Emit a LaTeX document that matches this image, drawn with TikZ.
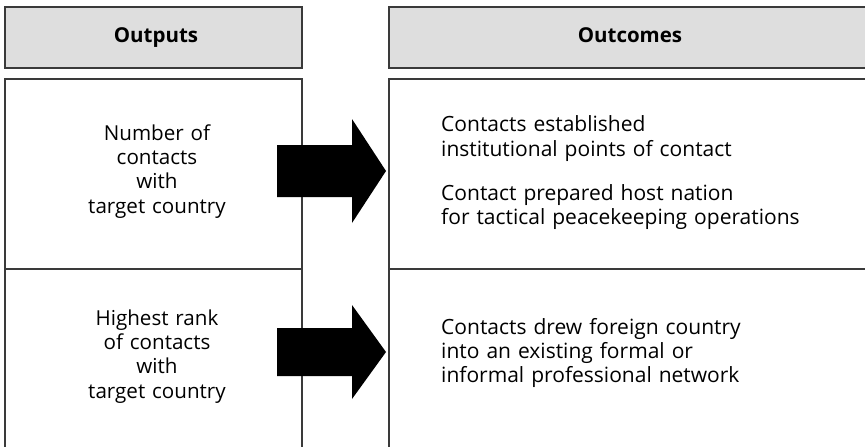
\documentclass[tikz,border=0pt]{standalone}
\usepackage{fontspec}
\setmainfont{Open Sans}
\usetikzlibrary{
    positioning,
    calc
}

\definecolor{headgray}{HTML}{DEDEDE}
\definecolor{framegray}{HTML}{3A3A3A}

\tikzset{
  headbox/.style={
    draw=framegray,
    line width=1.5pt,
    fill=headgray,
    anchor=north west,
    minimum height=61pt
  },
  cellbox/.style={
    draw=framegray,
    line width=1.5pt,
    anchor=north west
  },
  headtext/.style={
    font=\bfseries\fontsize{20.5}{24}\selectfont,
    anchor=base,
    inner sep=0pt
  },
  midtext/.style={
    font=\fontsize{20.6}{24.4}\selectfont,
    text width=220pt,
    align=center,
    anchor=base,
    inner sep=0pt
  },
  sidetext/.style={
    font=\fontsize{21}{24.3}\selectfont,
    text width=420pt,
    align=left,
    anchor=base west,
    inner sep=0pt
  },
  blockarrow/.style={
    fill=black
  }
}

\begin{document}
\begin{tikzpicture}[x=1pt, y=-1pt]

  \useasboundingbox (0,0) rectangle (865,447);
  \clip (0,0) rectangle (865,447);

  % headers
  \node[headbox, minimum width=297pt] (outhead) at (4,6) {};
  \node[headbox, minimum width=500pt] (comehead) at (388,6) {};
  \node[headtext] (outlabel) at (156,42.7) {Outputs};
  \node[headtext] (comelabel) at (630,42.7) {Outcomes};

  % cells
  \node[cellbox, minimum width=297pt, minimum height=190pt] (numcell) at (4,78) {};
  \node[cellbox, minimum width=297pt, minimum height=220pt] (rankcell) at (4,268) {};
  \node[cellbox, minimum width=500pt, minimum height=190pt] (estcell) at (388,78) {};
  \node[cellbox, minimum width=500pt, minimum height=220pt] (drewcell) at (388,268) {};

  % texts
  \node[midtext] (numtext) at (157,140)
    {Number of\\contacts\\with\\target country};
  \node[midtext] (ranktext) at (157,325)
    {Highest rank\\of contacts\\with\\target country};
  \node[sidetext] (esttext) at (441,131.7)
    {Contacts established\\institutional points of contact};
  \node[sidetext] (preptext) at (441,200)
    {Contact prepared host nation\\for tactical peacekeeping operations};
  \node[sidetext] (drewtext) at (441,334)
    {Contacts drew foreign country\\into an existing formal or\\informal professional network};

  % arrows
  \coordinate (tipone) at (386,171);
  \coordinate (tiptwo) at (386,352);
  \fill[blockarrow] (tipone) -- ++(-34,-52) -- ++(0,26) -- ++(-75,0)
    -- ++(0,52) -- ++(75,0) -- ++(0,26) -- cycle;
  \fill[blockarrow] (tiptwo) -- ++(-34,-47) -- ++(0,23) -- ++(-75,0)
    -- ++(0,48) -- ++(75,0) -- ++(0,23) -- cycle;

\end{tikzpicture}
\end{document}
